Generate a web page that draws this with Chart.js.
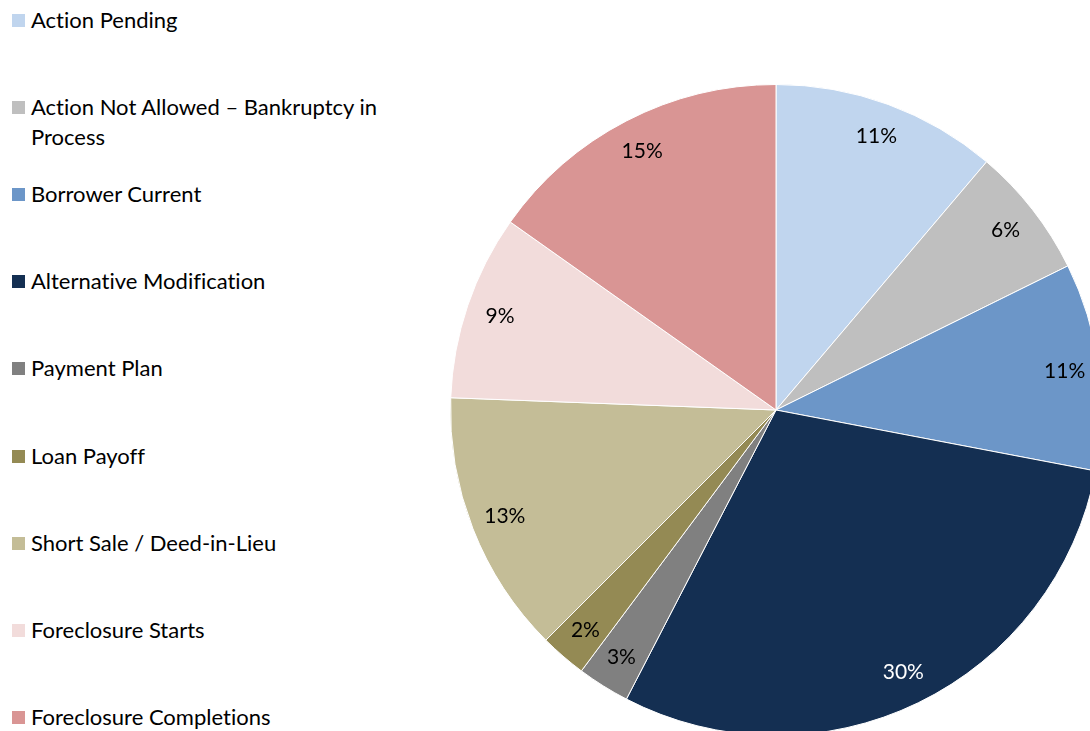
<!DOCTYPE html>
<html>
<head>
<meta charset="utf-8">
<script src="https://cdn.jsdelivr.net/npm/chart.js@4"></script>
<style>
    html, body {
        margin: 0;
        padding: 0;
        width: 1090px;
        height: 731px;
        overflow: hidden;
        background: #ffffff;
        font-family: Lato, "Open Sans", sans-serif;
    }
    #legend {
        position: absolute;
        left: 0;
        top: 0;
    }
    .item {
        position: absolute;
        left: 12px;
        width: 352px;
        font-size: 22px;
        line-height: 30px;
        color: #000;
        padding-left: 19px;
        font-variant-ligatures: none;
    }
    .item .box {
        position: absolute;
        left: 0;
        top: 9px;
        width: 13px;
        height: 13px;
    }
    #wrap {
        position: absolute;
        left: 446px;
        top: 80px;
        width: 660px;
        height: 660px;
    }
</style>
</head>
<body>
<div id="legend"></div>
<div id="wrap"><canvas id="pieChart" width="660" height="660"></canvas></div>
<script>
// 类别与数值
const categories = [
    'Action Pending',
    'Action Not Allowed – Bankruptcy in Process',
    'Borrower Current',
    'Alternative Modification',
    'Payment Plan',
    'Loan Payoff',
    'Short Sale / Deed-in-Lieu',
    'Foreclosure Starts',
    'Foreclosure Completions'
];
const shares = [11.2, 6.5, 10.3, 29.6, 2.6, 2.3, 13.1, 9.2, 15.2];
const shareLabels = ['11%', '6%', '11%', '30%', '3%', '2%', '13%', '9%', '15%'];
const sliceColors = ['#C0D5EE', '#BFBFBF', '#6C96C8', '#142F52', '#808080', '#948A54', '#C4BD97', '#F2DCDB', '#D99594'];
const labelColors = ['#000', '#000', '#000', '#fff', '#000', '#000', '#000', '#000', '#000'];

// 左侧图例
const legend = document.getElementById('legend');
categories.forEach(function (name, i) {
    const div = document.createElement('div');
    div.className = 'item';
    div.style.top = (5 + 87.1 * i) + 'px';
    div.innerHTML = '<span class="box" style="background:' + sliceColors[i] + '"></span>' + name;
    legend.appendChild(div);
});

// 百分比标签插件
const sliceLabels = {
    id: 'sliceLabels',
    afterDatasetsDraw(chart) {
        const ctx = chart.ctx;
        const meta = chart.getDatasetMeta(0);
        ctx.save();
        ctx.font = '21px Lato, "Open Sans", sans-serif';
        ctx.textAlign = 'center';
        ctx.textBaseline = 'middle';
        meta.data.forEach(function (arc, i) {
            const p = arc.getProps(['x', 'y', 'startAngle', 'endAngle', 'outerRadius'], true);
            const mid = (p.startAngle + p.endAngle) / 2;
            const r = p.outerRadius * 0.895;
            ctx.fillStyle = labelColors[i];
            ctx.fillText(shareLabels[i], p.x + Math.cos(mid) * r, p.y + Math.sin(mid) * r);
        });
        ctx.restore();
    }
};

const ctx = document.getElementById('pieChart').getContext('2d');
new Chart(ctx, {
    type: 'pie',
    data: {
        labels: categories,
        datasets: [{
            data: shares,
            backgroundColor: sliceColors,
            borderColor: '#ffffff',
            borderWidth: 1
        }]
    },
    options: {
        responsive: false,
        animation: false,
        layout: { padding: 4 },
        plugins: {
            legend: { display: false },
            tooltip: { enabled: false }
        }
    },
    plugins: [sliceLabels]
});
</script>
</body>
</html>
